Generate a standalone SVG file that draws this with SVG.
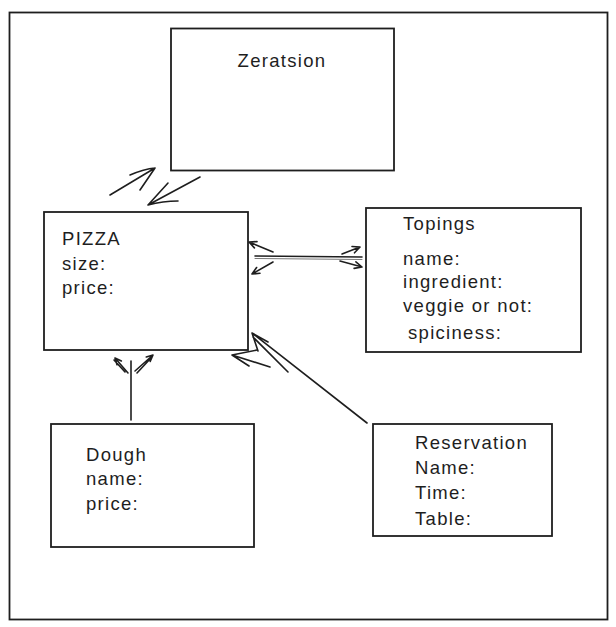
<svg xmlns="http://www.w3.org/2000/svg" width="616" height="627" viewBox="0 0 616 627">
<style>
.box{fill:#ffffff;stroke:#1e1e1e;stroke-width:1.8;}
.frame{fill:#ffffff;stroke:#1e1e1e;stroke-width:1.8;}
.t{font-family:"Liberation Sans",Arial,sans-serif;font-size:18.5px;fill:#1e1e1e;letter-spacing:1.3px;}
.c{fill:none;stroke:#1e1e1e;stroke-width:1.6;stroke-linecap:round;stroke-linejoin:round;}
.c2{fill:none;stroke:#777;stroke-width:1;stroke-linecap:round;}
</style>
<rect width="616" height="627" fill="#ffffff"/>
<rect class="frame" x="9.5" y="12.5" width="598" height="607"/>
<g id="zeratsion">
<rect class="box" x="171" y="28.5" width="223" height="142"/>
<text class="t" x="282" y="67" text-anchor="middle">Zeratsion</text>
</g>
<g id="pizza">
<rect class="box" x="44" y="212" width="204" height="138"/>
<text class="t" x="62" y="245">PIZZA</text>
<text class="t" x="62" y="270">size:</text>
<text class="t" x="62" y="294">price:</text>
</g>
<g id="topings">
<rect class="box" x="366" y="208" width="215" height="144"/>
<text class="t" x="403" y="230">Topings</text>
<text class="t" x="403" y="265">name:</text>
<text class="t" x="403" y="288">ingredient:</text>
<text class="t" x="403" y="312">veggie or not:</text>
<text class="t" x="408" y="339">spiciness:</text>
</g>
<g id="dough">
<rect class="box" x="51" y="424" width="203" height="123"/>
<text class="t" x="86" y="461">Dough</text>
<text class="t" x="86" y="485">name:</text>
<text class="t" x="86" y="510">price:</text>
</g>
<g id="reservation">
<rect class="box" x="373" y="424" width="179" height="112"/>
<text class="t" x="415" y="449">Reservation</text>
<text class="t" x="415" y="474">Name:</text>
<text class="t" x="415" y="499">Time:</text>
<text class="t" x="415" y="525">Table:</text>
</g>
<g id="connectors">
<path class="c" d="M110,195 L155,168 M130,175 Q144,169 155,168 M140,190 L155,168"/>
<path class="c" d="M200,177 L148,205 M168,183 L148,205 M178,201 Q163,201 148,205"/>
<path class="c" d="M255,256 L362,257"/>
<path class="c2" d="M255,258.5 L362,259.5"/>
<path class="c" d="M273,252 L249,242 M254.4,247.9 L249,242 L257,241.6"/>
<path class="c" d="M273,262 L252,274 M260,273.3 L252,274 L256.6,267.5"/>
<path class="c" d="M342,254 L360,247 M352,246.5 L360,247 L354.5,252.8"/>
<path class="c" d="M340,261 L362,267 M355.9,261.8 L362,267 L354.1,268.4"/>
<path class="c" d="M131,420 L131,361"/>
<path class="c" d="M128,373 L115,358 M125,372 L114,360 M117,364.7 L115,358 L121.4,360.9"/>
<path class="c" d="M135,371 L153,355 M137,373 L151,358 M146.3,357 L153,355 L150.2,361.4"/>
<path class="c" d="M367,423 L252,333 M288,372 L253,337 M268,342 L252,333 L258,351"/>
<path class="c" d="M270,367 L232,355 L257,350 M232,355 L249,366"/>
</g>
</svg>
